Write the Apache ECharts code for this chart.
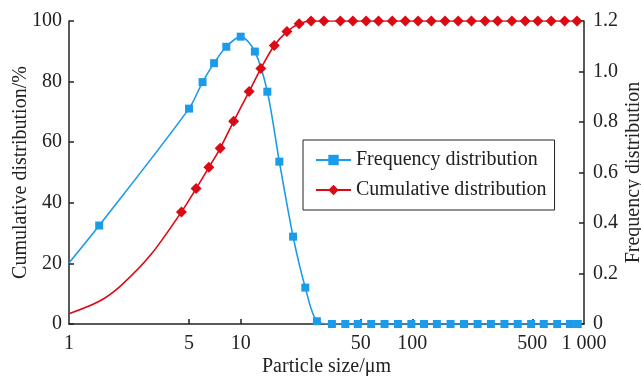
<!DOCTYPE html>
<html>
<head>
<meta charset="utf-8">
<script src="https://cdn.jsdelivr.net/npm/echarts@6/dist/echarts.min.js"></script>
<style>
  html, body { margin: 0; padding: 0; background: #fff; }
  #chart { width: 641px; height: 376px; }
</style>
</head>
<body>
<div id="chart"></div>
<script>
// particle size (μm) and values
const freqSize = [1, 1.5, 5, 6, 7, 8.25, 10, 12.1, 14.3, 16.8, 20.2, 23.8, 27.8, 34, 40.7, 48.1, 57.6, 68.9, 82.5, 98.7, 117, 139, 167, 200, 240, 287, 344, 411, 492, 583, 698, 828, 920];
const freqValue = [0.242, 0.39, 0.853, 0.958, 1.033, 1.098, 1.138, 1.079, 0.92, 0.643, 0.346, 0.144, 0.011, 0, 0, 0, 0, 0, 0, 0, 0, 0, 0, 0, 0, 0, 0, 0, 0, 0, 0, 0, 0];
const cumSize = [1, 1.5, 2, 3, 4.52, 5.5, 6.53, 7.6, 9.1, 11.2, 13.1, 15.7, 18.6, 21.9, 25.7, 30.5, 38.1, 45, 53.8, 63.5, 76.4, 91, 108, 129, 155, 185, 221, 265, 314, 380, 454, 538, 644, 771, 910];
const cumValue = [3.4, 7.5, 12.6, 22.9, 37, 44.7, 51.7, 58, 66.9, 76.7, 84.3, 91.9, 96.5, 99.1, 100, 100, 100, 100, 100, 100, 100, 100, 100, 100, 100, 100, 100, 100, 100, 100, 100, 100, 100, 100, 100];
// points on the curve without a marker
const freqNoMark = [1];
const cumNoMark = [1, 1.5, 2, 3];
const xLabels = [1, 5, 10, 50, 100, 500, 1000];
const xTicks = [5, 10, 50, 100, 500];

const FONT = "Liberation Serif";
const BLUE = "#1b9be8";
const RED = "#dc0a14";

const chart = echarts.init(document.getElementById("chart"));

const toData = (xs, ys, noMark) => xs.map((x, i) => {
  const item = { value: [x, ys[i]] };
  if (noMark.includes(x)) item.symbol = "none";
  return item;
});

const axisCommon = {
  axisLine: { show: true, lineStyle: { color: "#222", width: 1.5 } },
  axisTick: { show: true, inside: true, length: 5, lineStyle: { color: "#222", width: 1.5 } },
  splitLine: { show: false },
  nameMoveOverlap: false,
  nameTextStyle: { fontFamily: FONT, fontSize: 20, color: "#222" },
};

chart.setOption({
  animation: false,
  textStyle: { fontFamily: FONT },
  grid: { left: 69, right: 57, top: 21, bottom: 52, outerBoundsMode: "none" },
  legend: {
    orient: "vertical",
    left: 303,
    top: 140,
    padding: [10, 8, 10, 12],
    itemGap: 10,
    itemWidth: 35,
    itemHeight: 13,
    borderColor: "#222",
    borderWidth: 1,
    textStyle: { fontFamily: FONT, fontSize: 20, color: "#222" },
    data: ["Frequency distribution", "Cumulative distribution"],
  },
  xAxis: {
    ...axisCommon,
    type: "log",
    logBase: 10,
    min: 1,
    max: 1000,
    name: "Particle size/μm",
    nameLocation: "middle",
    nameGap: 33,
    axisTick: { ...axisCommon.axisTick, customValues: xTicks },
    axisLabel: {
      customValues: xLabels,
      margin: 10,
      fontFamily: FONT,
      fontSize: 20,
      color: "#222",
      formatter: (v) => (v === 1000 ? "1 000" : String(v)),
    },
    minorTick: { show: false },
  },
  yAxis: [
    {
      ...axisCommon,
      type: "value",
      min: 0,
      max: 100,
      interval: 20,
      name: "Cumulative distribution/%",
      nameLocation: "middle",
      nameRotate: 90,
      nameGap: 38,
      axisLabel: { margin: 7, fontFamily: FONT, fontSize: 20, color: "#222" },
    },
    {
      ...axisCommon,
      type: "value",
      position: "right",
      min: 0,
      max: 1.2,
      interval: 0.2,
      name: "Frequency distribution",
      nameLocation: "middle",
      nameRotate: 90,
      nameGap: 40,
      axisLabel: {
        margin: 9,
        fontFamily: FONT,
        fontSize: 20,
        color: "#222",
        formatter: (v) => (v === 0 ? "0" : v.toFixed(1)),
      },
    },
  ],
  series: [
    {
      name: "Frequency distribution",
      type: "line",
      yAxisIndex: 1,
      smooth: 0.3,
      symbol: "rect",
      symbolSize: 8,
      color: BLUE,
      lineStyle: { width: 1.6, color: BLUE },
      itemStyle: { color: BLUE },
      data: toData(freqSize, freqValue, freqNoMark),
    },
    {
      name: "Cumulative distribution",
      type: "line",
      yAxisIndex: 0,
      smooth: 0.3,
      symbol: "diamond",
      symbolSize: 11,
      color: RED,
      lineStyle: { width: 1.6, color: RED },
      itemStyle: { color: RED },
      data: toData(cumSize, cumValue, cumNoMark),
    },
  ],
});

window.addEventListener("resize", () => chart.resize());
</script>
</body>
</html>
